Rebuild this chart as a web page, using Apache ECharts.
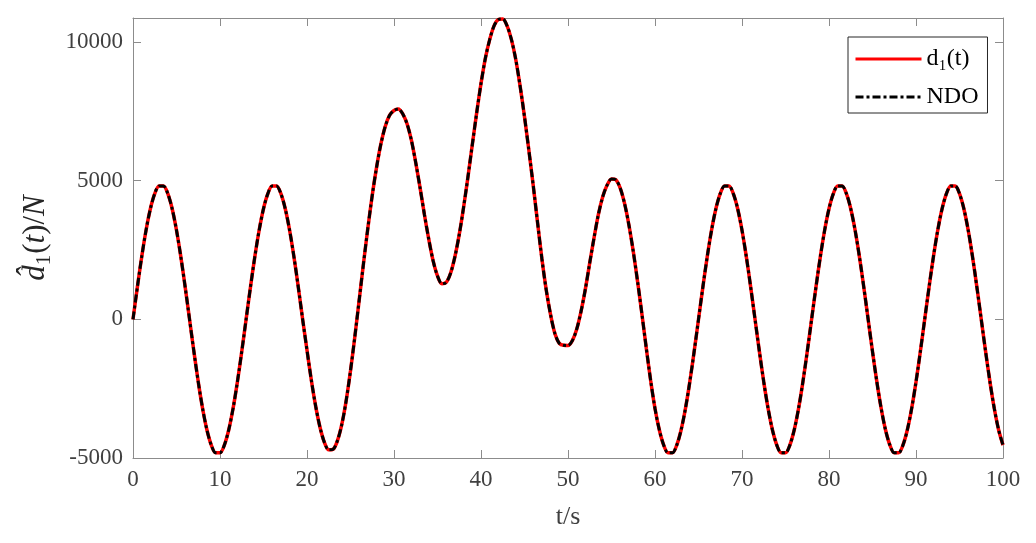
<!DOCTYPE html>
<html>
<head>
<meta charset="utf-8">
<script src="https://cdn.jsdelivr.net/npm/echarts@6/dist/echarts.min.js"></script>
<style>
html,body{margin:0;padding:0;background:#fff}
#main{width:1036px;height:543px}
</style>
</head>
<body>
<div id="main"></div>
<script>
// samples every 0.5 s, 0..100
const t = [];
for (let i = 0; i <= 200; i++) t.push(i * 0.5);

// d1(t)
const d1 = [
  0, 1161, 2254, 3216, 3991, 4535, 4815, 4815, 4535, 3991, 3216, 2254, 1161, 0,
  -1161, -2254, -3216, -3991, -4535, -4815, -4815, -4535, -3991, -3216, -2254, -1161,
  0, 1161, 2254, 3216, 3991, 4535, 4815, 4815, 4535, 3991, 3216, 2254, 1161, 0,
  -1111, -2194, -3136, -3901, -4435, -4705, -4685, -4375, -3791, -2936,
  -1854, -621, 700, 2031, 3304, 4476, 5491, 6335, 6965, 7365,
  7535, 7591, 7416, 7054, 6461, 5650, 4739, 3776, 2884, 2109,
  1565, 1285, 1335, 1665, 2259, 3064, 4046, 5139, 6300, 7441,
  8504, 9416, 10091, 10585, 10815, 10835, 10585, 10091, 9366, 8404,
  7311, 6100, 4839, 3496, 2184, 1059, 165, -515, -865, -935,
  -941, -766, -354, 289, 1100, 2041, 2954, 3796, 4431, 4845,
  5065, 5035, 4735, 4181, 3406, 2454, 1361, 180, -1041, -2204,
  -3216, -3991, -4535, -4815, -4815, -4535, -3991, -3216, -2254, -1161,
  0, 1161, 2254, 3216, 3991, 4535, 4815, 4815, 4535, 3991, 3216, 2254, 1161,
  0, -1161, -2254, -3216, -3991, -4535, -4815, -4815, -4535, -3991, -3216, -2254, -1161,
  0, 1161, 2254, 3216, 3991, 4535, 4815, 4815, 4535, 3991, 3216, 2254, 1161,
  0, -1161, -2254, -3216, -3991, -4535, -4815, -4815, -4535, -3991, -3216, -2254, -1161,
  0, 1161, 2254, 3216, 3991, 4535, 4815, 4815, 4535, 3991, 3216, 2254, 1161,
  0, -1161, -2254, -3216, -3991, -4535
];
// observer estimate lies on top of d1 everywhere
const ndo = d1;

const names = ['d₁(t)', 'NDO'];

const gray = '#8c8c8c';
const txt = '#404040';
const serif = 'Liberation Serif';

const axisCommon = {
  axisLine: {show: true, onZero: false, lineStyle: {color: gray, width: 1}},
  axisTick: {show: true, inside: true, length: 8, lineStyle: {color: gray}},
  splitLine: {show: false}
};

const chart = echarts.init(document.getElementById('main'));
chart.setOption({
  animation: false,
  backgroundColor: '#fff',
  grid: {left: 133, right: 33, top: 18, bottom: 85},
  legend: {
    data: names,
    orient: 'vertical',
    left: 848, top: 37,
    padding: [10, 9, 4, 6],
    itemGap: 14,
    itemWidth: 66, itemHeight: 14,
    itemStyle: {opacity: 0},
    lineStyle: {width: 3},
    backgroundColor: '#fff',
    borderColor: '#262626', borderWidth: 1,
    textStyle: {fontFamily: serif, fontSize: 24, color: '#000'}
  },
  xAxis: [
    Object.assign({
      type: 'value', min: 0, max: 100, interval: 10, position: 'bottom',
      axisLabel: {color: txt, fontFamily: serif, fontSize: 23, margin: 10},
      name: 't/s', nameLocation: 'middle', nameGap: 46,
      nameTextStyle: {color: txt, fontFamily: serif, fontSize: 26}
    }, axisCommon),
    Object.assign({
      type: 'value', min: 0, max: 100, interval: 10, position: 'top',
      axisLabel: {show: false}
    }, axisCommon)
  ],
  yAxis: [
    Object.assign({
      type: 'value', min: -5000, max: 10870, interval: 5000, position: 'left',
      axisLabel: {
        color: txt, fontFamily: serif, fontSize: 23, margin: 10, showMaxLabel: false,
        formatter: v => String(v)
      },
      name: '{i|d̂}{s|1}{n|(}{i|t}{n|)/}{i|N}',
      nameLocation: 'middle', nameGap: 75, nameRotate: 90,
      nameTextStyle: {
        color: '#262626',
        rich: {
          i: {fontFamily: serif, fontStyle: 'italic', fontSize: 31, color: '#262626'},
          n: {fontFamily: serif, fontSize: 31, color: '#262626'},
          s: {fontFamily: serif, fontSize: 21, color: '#262626', verticalAlign: 'top', padding: [16, 1, 0, 0]}
        }
      }
    }, axisCommon),
    Object.assign({
      type: 'value', min: -5000, max: 10870, interval: 5000, position: 'right',
      axisLabel: {show: false}
    }, axisCommon)
  ],
  series: [
    {
      name: names[0], type: 'line', xAxisIndex: 0, yAxisIndex: 0,
      data: t.map((x, i) => [x, d1[i]]),
      symbol: 'none', showSymbol: false, smooth: 0.3,
      lineStyle: {color: '#ff0000', width: 3.5},
      itemStyle: {color: '#ff0000'}
    },
    {
      name: names[1], type: 'line', xAxisIndex: 0, yAxisIndex: 0,
      data: t.map((x, i) => [x, ndo[i]]),
      symbol: 'none', showSymbol: false, smooth: 0.3,
      lineStyle: {color: '#000000', width: 3, type: [8, 3, 3, 3]},
      itemStyle: {color: '#000000'}
    }
  ]
});
</script>
</body>
</html>
